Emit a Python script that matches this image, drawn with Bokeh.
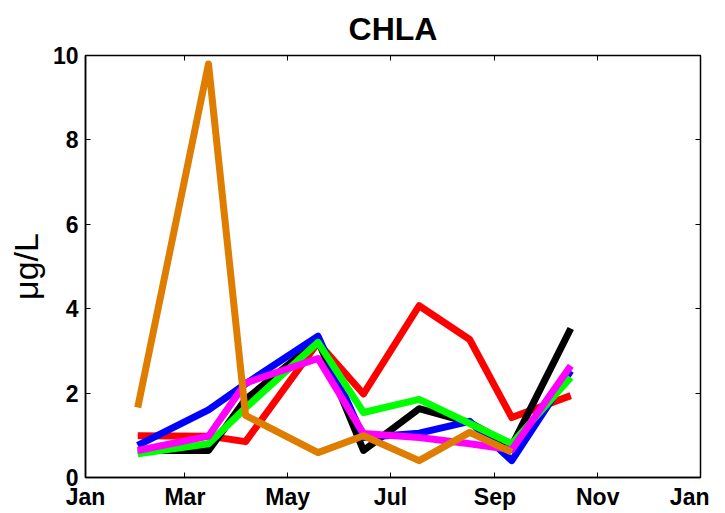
from bokeh.plotting import figure
from bokeh.models import LinearAxis, FixedTicker, Range1d
from bokeh.embed import file_html
from bokeh.resources import INLINE

# day of year of samples
days = [31, 73, 95, 138, 165, 198, 228, 253, 288]
red = [0.99, 0.98, 0.85, 3.2, 1.98, 4.07, 3.27, 1.42, 1.94]
black = [0.64, 0.64, 1.85, 3.25, 0.64, 1.63, 1.3, 0.75, 3.53]
blue = [0.76, 1.6, 2.22, 3.35, 0.95, 1.05, 1.33, 0.4, 2.53]
green = [0.56, 0.8, 1.65, 3.2, 1.54, 1.85, 1.28, 0.8, 2.37]
magenta = [0.64, 0.98, 2.24, 2.82, 1.04, 0.95, 0.8, 0.66, 2.65]
orange = [1.66, 9.8, 1.47, 0.59, 0.99, 0.4, 1.07, 0.6]

tick_days = [0, 59, 120, 181, 243, 304, 365]
tick_labels = ["Jan", "Mar", "May", "Jul", "Sep", "Nov", "Jan"]
y_ticks = [0, 2, 4, 6, 8, 10]

p = figure(width=709, height=512, output_backend="svg", toolbar_location=None,
           x_range=Range1d(0, 365), y_range=Range1d(0, 10),
           title="CHLA", min_border_left=85, min_border_right=9,
           min_border_top=55, min_border_bottom=35)
p.grid.visible = False
p.outline_line_color = "black"
p.outline_line_width = 1.5
p.background_fill_color = "white"
p.border_fill_color = "white"

p.title.align = "center"
p.title.vertical_align = "top"
p.title.text_font = "Liberation Sans"
p.title.text_font_size = "32px"
p.title.text_font_style = "bold"
p.title.text_color = "black"
p.title.standoff = 14

series = [(red, "#FF0000"), (black, "#000000"), (blue, "#0000FF"),
          (green, "#00FF00"), (magenta, "#FF00FF"), (orange, "#DE7D00")]
for vals, col in series:
    p.line(days[:len(vals)], vals, line_color=col, line_width=7,
           line_join="round", line_cap="butt")

xa = p.xaxis[0]
xa.ticker = FixedTicker(ticks=tick_days)
xa.major_label_overrides = {d: l for d, l in zip(tick_days, tick_labels)}
ya = p.yaxis[0]
ya.ticker = FixedTicker(ticks=y_ticks)
ya.axis_label = "μg/L"
ya.axis_label_text_font = "Liberation Sans"
ya.axis_label_text_font_size = "34px"
ya.axis_label_text_font_style = "normal"
ya.axis_label_text_color = "black"
ya.axis_label_standoff = 5

for ax in (xa, ya):
    ax.major_tick_in = 5
    ax.major_tick_out = 0
    ax.minor_tick_line_color = None
    ax.major_label_text_font = "Liberation Sans"
    ax.major_label_text_font_size = "23px"
    ax.major_label_text_font_style = "bold"
    ax.major_label_text_color = "black"
    ax.axis_line_width = 1.5
xa.major_label_standoff = 6
ya.major_label_standoff = 7

top = LinearAxis(ticker=FixedTicker(ticks=tick_days), major_label_text_color=None,
                 major_label_text_font_size="0px", major_label_standoff=0,
                 major_tick_in=5, major_tick_out=0, minor_tick_line_color=None,
                 axis_line_color=None)
right = LinearAxis(ticker=FixedTicker(ticks=y_ticks), major_label_text_color=None,
                   major_label_text_font_size="0px", major_label_standoff=0,
                   major_tick_in=5, major_tick_out=0, minor_tick_line_color=None,
                   axis_line_color=None)
p.add_layout(top, "above")
p.add_layout(right, "right")

open("out.html", "w").write(file_html(p, INLINE))
